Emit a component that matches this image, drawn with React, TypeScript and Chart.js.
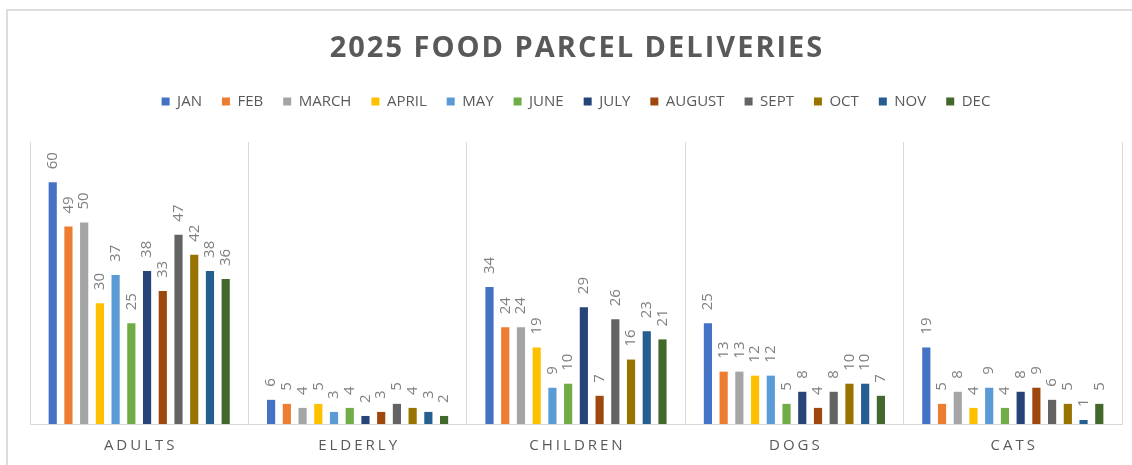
import React, { useEffect, useRef } from "react";
import { Chart, registerables } from "chart.js";

Chart.register(...registerables);

const categories = ["ADULTS", "ELDERLY", "CHILDREN", "DOGS", "CATS"];
const months = ["JAN", "FEB", "MARCH", "APRIL", "MAY", "JUNE", "JULY", "AUGUST", "SEPT", "OCT", "NOV", "DEC"];
const colors = ["#4472C4", "#ED7D31", "#A5A5A5", "#FFC000", "#5B9BD5", "#70AD47", "#264478", "#9E480E", "#636363", "#997300", "#255E91", "#43682B"];

const jan = [60, 6, 34, 25, 19];
const feb = [49, 5, 24, 13, 5];
const march = [50, 4, 24, 13, 8];
const april = [30, 5, 19, 12, 4];
const may = [37, 3, 9, 12, 9];
const june = [25, 4, 10, 5, 4];
const july = [38, 2, 29, 8, 8];
const august = [33, 3, 7, 4, 9];
const sept = [47, 5, 26, 8, 6];
const oct = [42, 4, 16, 10, 5];
const nov = [38, 3, 23, 10, 1];
const dec = [36, 2, 21, 7, 5];
const seriesValues = [jan, feb, march, april, may, june, july, august, sept, oct, nov, dec];

const titleText = "2025 FOOD PARCEL DELIVERIES";
const FONT = "'Open Sans', 'Liberation Sans', sans-serif";

const customDraw = {
  id: "customDraw",
  beforeInit(chart: any) {
    const legend = chart.legend;
    if (legend) {
      const origFit = legend.fit;
      legend.fit = function () {
        origFit.call(this);
        this.height += 23;
      };
    }
  },
  afterDatasetsDraw(chart: any) {
    const ctx = chart.ctx;
    ctx.save();
    (ctx as any).letterSpacing = "0px";
    ctx.font = `15px ${FONT}`;
    ctx.fillStyle = "#808080";
    ctx.textAlign = "left";
    ctx.textBaseline = "middle";
    chart.data.datasets.forEach((ds: any, di: number) => {
      const meta = chart.getDatasetMeta(di);
      meta.data.forEach((bar: any, i: number) => {
        ctx.save();
        ctx.translate(bar.x, bar.y - 13);
        ctx.rotate(-Math.PI / 2);
        ctx.fillText(String(ds.data[i]), 0, 0);
        ctx.restore();
      });
    });
    ctx.restore();
  },
  afterDraw(chart: any) {
    const ctx = chart.ctx;
    const xs = chart.scales.x;
    ctx.save();
    // title
    ctx.font = `bold 29px ${FONT}`;
    (ctx as any).letterSpacing = "2px";
    ctx.fillStyle = "#595959";
    ctx.textAlign = "center";
    ctx.textBaseline = "middle";
    ctx.fillText(titleText, 577, 49);
    // category labels
    ctx.font = `15px ${FONT}`;
    (ctx as any).letterSpacing = "3px";
    categories.forEach((c, i) => {
      ctx.fillText(c, xs.getPixelForValue(i) + 1.5, 446);
    });
    ctx.restore();
  },
};

export default function App() {
  const ref = useRef<HTMLCanvasElement>(null);
  useEffect(() => {
    if (!ref.current) return;
    const chart = new Chart(ref.current, {
      type: "bar",
      data: {
        labels: categories,
        datasets: months.map((m, i) => ({
          label: m,
          data: seriesValues[i],
          backgroundColor: colors[i],
          borderWidth: 0,
          categoryPercentage: 0.864,
          barPercentage: 0.52,
        })),
      },
      options: {
        animation: false,
        responsive: false,
        maintainAspectRatio: false,
        layout: { padding: { top: 74, left: 30, right: 10, bottom: 41 } },
        plugins: {
          title: { display: false },
          tooltip: { enabled: false },
          legend: {
            display: true,
            position: "top",
            labels: {
              boxWidth: 8,
              boxHeight: 8,
              padding: 20,
              color: "#595959",
              font: { family: FONT, size: 15 },
            },
          },
        },
        scales: {
          x: {
            display: true,
            offset: true,
            grid: { display: true, offset: true, color: "#D9D9D9", lineWidth: 1, drawTicks: false },
            border: { display: true, color: "#D9D9D9", width: 1 },
            ticks: { display: false },
          },
          y: {
            display: false,
            min: 0,
            max: 70,
          },
        },
      },
      plugins: [customDraw],
    });
    return () => chart.destroy();
  }, []);
  return (
    <div style={{ position: "fixed", left: 0, top: 0, width: 1132, height: 465, overflow: "hidden", background: "#fff" }}>
      <div style={{ position: "absolute", left: 6, top: 9, width: 1200, height: 500, border: "2px solid #DCDCDC", boxSizing: "border-box" }} />
      <canvas ref={ref} width={1132} height={465} style={{ position: "absolute", left: 0, top: 0, width: 1132, height: 465 }} />
    </div>
  );
}
